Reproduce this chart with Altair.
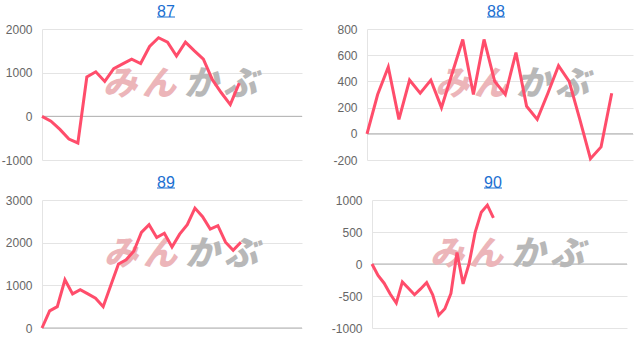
import altair as alt
import pandas as pd

titles = ["87", "88", "89", "90"]
v87 = [0, -110, -300, -520, -610, 900, 1020, 800, 1090, 1200, 1310, 1210, 1600, 1800,
       1700, 1380, 1700, 1500, 1310, 840, 540, 270, 760]
v88 = [0, 300, 510, 110, 410, 310, 410, 200, 460, 720, 300, 720, 400, 300, 620, 210,
       110, 310, 520, 400, 110, -190, -100, 310]
v89 = [0, 400, 500, 1130, 800, 900, 800, 700, 500, 1000, 1500, 1600, 1800, 2240, 2420,
       2120, 2220, 1900, 2200, 2420, 2810, 2610, 2320, 2400, 2010, 1820, 2010]
v90 = [0, -180, -300, -470, -610, -280, -380, -480, -390, -290, -480, -800, -700, -460,
       180, -310, 10, 500, 810, 920, 720]
series = [v87, v88, v89, v90]
x_max = [29, 25, 34, 42]
y_domains = [[-1000, 2000], [-200, 800], [0, 3000], [-1000, 1000]]
y_ticks = [[-1000, 0, 1000, 2000], [-200, 0, 200, 400, 600, 800],
           [0, 1000, 2000, 3000], [-1000, -500, 0, 500, 1000]]
watermark_chars = ["み", "ん", "か", "ぶ"]
watermark_colors = ["#ecb5b9", "#ecb5b9", "#b8b8b8", "#b8b8b8"]

LINE = "#ff4d6b"
BLUE = "#1b6fd1"
FONT = "Liberation Sans"

# layout (pixels) per panel: width, height, title centre, watermark centre
sizes = [(260, 131), (266, 131), (260, 128), (255, 128)]
title_cx = [124, 129, 124, 121]
wm_cx = [139, 146, 140, 136]
wm_cy = [56, 56, 55, 55]


def panel(k):
    w, h = sizes[k]
    vals = series[k]
    df = pd.DataFrame({"n": list(range(len(vals))), "v": vals})
    xs = alt.Scale(domain=[0, x_max[k]], nice=False, zero=False)
    ys = alt.Scale(domain=y_domains[k], nice=False, zero=False)
    axis = alt.Axis(values=y_ticks[k], title=None, grid=True, gridColor="#e4e4e4",
                    domain=True, domainColor="#e4e4e4", ticks=False, labelPadding=10,
                    labelFont=FONT, labelFontSize=12, labelColor="#666666",
                    minExtent=40, maxExtent=40, labelExpr="'' + datum.value")

    zero = alt.Chart(pd.DataFrame({"z": [0]})).mark_rule(
        color="#b0b0b0", strokeWidth=1
    ).encode(y=alt.Y("z:Q", scale=ys, axis=axis))

    wm = pd.DataFrame({
        "ch": watermark_chars,
        "dx": [-61, -22, 20, 59],
        "col": watermark_colors,
    })
    marks = []
    for i in range(len(wm)):
        marks.append(
            alt.Chart(wm.iloc[[i]]).mark_text(
                font="Noto Sans CJK JP", fontSize=34, fontWeight=900,
                fontStyle="italic", align="center", baseline="middle",
                color=wm["col"].iloc[i]
            ).encode(
                text="ch:N",
                x=alt.value(wm_cx[k] + int(wm["dx"].iloc[i])),
                y=alt.value(wm_cy[k]),
            )
        )

    line = alt.Chart(df).mark_line(color=LINE, strokeWidth=3).encode(
        x=alt.X("n:Q", scale=xs, axis=None),
        y=alt.Y("v:Q", scale=ys, axis=axis),
    )

    underline = alt.Chart(pd.DataFrame({"t": [titles[k]]})).mark_rule(
        color=BLUE, strokeWidth=1
    ).encode(
        x=alt.value(title_cx[k] - 9),
        x2=alt.value(title_cx[k] + 9),
        y=alt.value(-12),
    )

    layers = [zero] + marks + [line, underline]
    return alt.layer(*layers).properties(
        width=w, height=h,
        title=alt.TitleParams(text=titles[k], fontSize=16, font=FONT, color=BLUE,
                              fontWeight="normal", anchor="middle", frame="group",
                              dx=title_cx[k] - w / 2, offset=-3),
    )


top = alt.hconcat(panel(0), panel(1), spacing=24)
bottom = alt.hconcat(panel(2), panel(3), spacing=28)
chart = alt.vconcat(top, bottom, spacing=8).properties(
    padding={"left": 1, "top": 3, "right": 0, "bottom": 0},
    background="white",
).configure_view(stroke=None)

chart.save("out.html", embed_options={"renderer": "svg", "actions": False})
